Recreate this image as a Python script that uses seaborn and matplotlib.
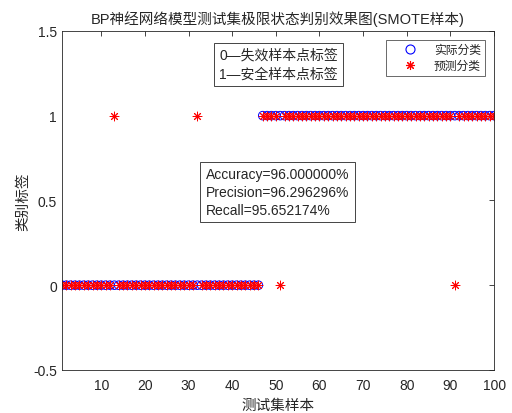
import numpy as np
import pandas as pd
import matplotlib
matplotlib.use('Agg')
import matplotlib.pyplot as plt
from matplotlib.lines import Line2D
import seaborn as sns

# test sample index, actual class and predicted class
sample_idx = list(range(1, 101))
actual = [0] * 46 + [1] * 54
predicted = [0] * 12 + [1] + [0] * 18 + [1] + [0] * 14 + [1] * 4 + [0] + [1] * 39 + [0] + [1] * 9

title = 'BP神经网络模型测试集极限状态判别效果图(SMOTE样本)'
xlabel = '测试集样本'
ylabel = '类别标签'
label_note = '0—失效样本点标签\n1—安全样本点标签'
stats_note = 'Accuracy=96.000000%\nPrecision=96.296296%\nRecall=95.652174%'
legend_labels = ['实际分类', '预测分类']

sns.set_style('white')
plt.rcParams['font.family'] = ['Liberation Sans', 'Noto Sans CJK SC', 'DejaVu Sans']
plt.rcParams['axes.unicode_minus'] = False

df = pd.DataFrame({'idx': sample_idx, 'actual': actual, 'pred': predicted})

fig = plt.figure(figsize=(5.12, 4.14), dpi=100)
ax = fig.add_axes([0.121, 0.104, 0.844, 0.819])

asterisk = (8, 2, 0)
sns.scatterplot(data=df, x='idx', y='actual', marker='o', s=38,
                facecolors='none', edgecolor='blue', linewidth=0.7, ax=ax)
sns.scatterplot(data=df, x='idx', y='pred', marker=asterisk, s=40,
                color='red', edgecolor='red', linewidth=0.7, ax=ax)

ax.set_xlim(1, 100)
ax.set_ylim(-0.5, 1.5)
ax.set_xticks([10, 20, 30, 40, 50, 60, 70, 80, 90, 100])
ax.set_yticks([-0.5, 0, 0.5, 1, 1.5])
ax.set_yticklabels(['-0.5', '0', '0.5', '1', '1.5'])
ax.tick_params(direction='in', top=True, right=True, length=3.5,
               labelsize=10, colors='#262626', width=0.6)
ax.tick_params(axis='x', pad=6)
for sp in ax.spines.values():
    sp.set_visible(True)
    sp.set_color('#262626')
    sp.set_linewidth(0.6)

ax.set_title(title, fontsize=10.5, color='#262626', pad=6)
ax.set_xlabel(xlabel, fontsize=10.5, color='#262626', labelpad=4)
ax.set_ylabel(ylabel, fontsize=10.5, color='#262626', labelpad=2)

ax.text(0.364, 0.95, label_note, transform=ax.transAxes, fontsize=10,
        va='top', ha='left', linespacing=1.45,
        bbox=dict(boxstyle='square,pad=0.35', fc='white', ec='#262626', lw=0.6))
ax.text(0.333, 0.598, stats_note, transform=ax.transAxes, fontsize=10,
        va='top', ha='left', linespacing=1.35,
        bbox=dict(boxstyle='square,pad=0.4', fc='white', ec='#262626', lw=0.6))

handles = [
    Line2D([], [], ls='', marker='o', mfc='none', mec='blue', ms=6.5, mew=0.8),
    Line2D([], [], ls='', marker=asterisk, color='red', mec='red', ms=6.5, mew=0.8),
]
ax.legend(handles, legend_labels, loc='upper right', bbox_to_anchor=(0.979, 0.973),
          fontsize=8.5, frameon=True, fancybox=False, edgecolor='#262626',
          handletextpad=0.3, borderpad=0.35, labelspacing=0.3, handlelength=3.4,
          borderaxespad=0)
ax.get_legend().get_frame().set_linewidth(0.6)

fig.savefig('out.png', dpi=100)
